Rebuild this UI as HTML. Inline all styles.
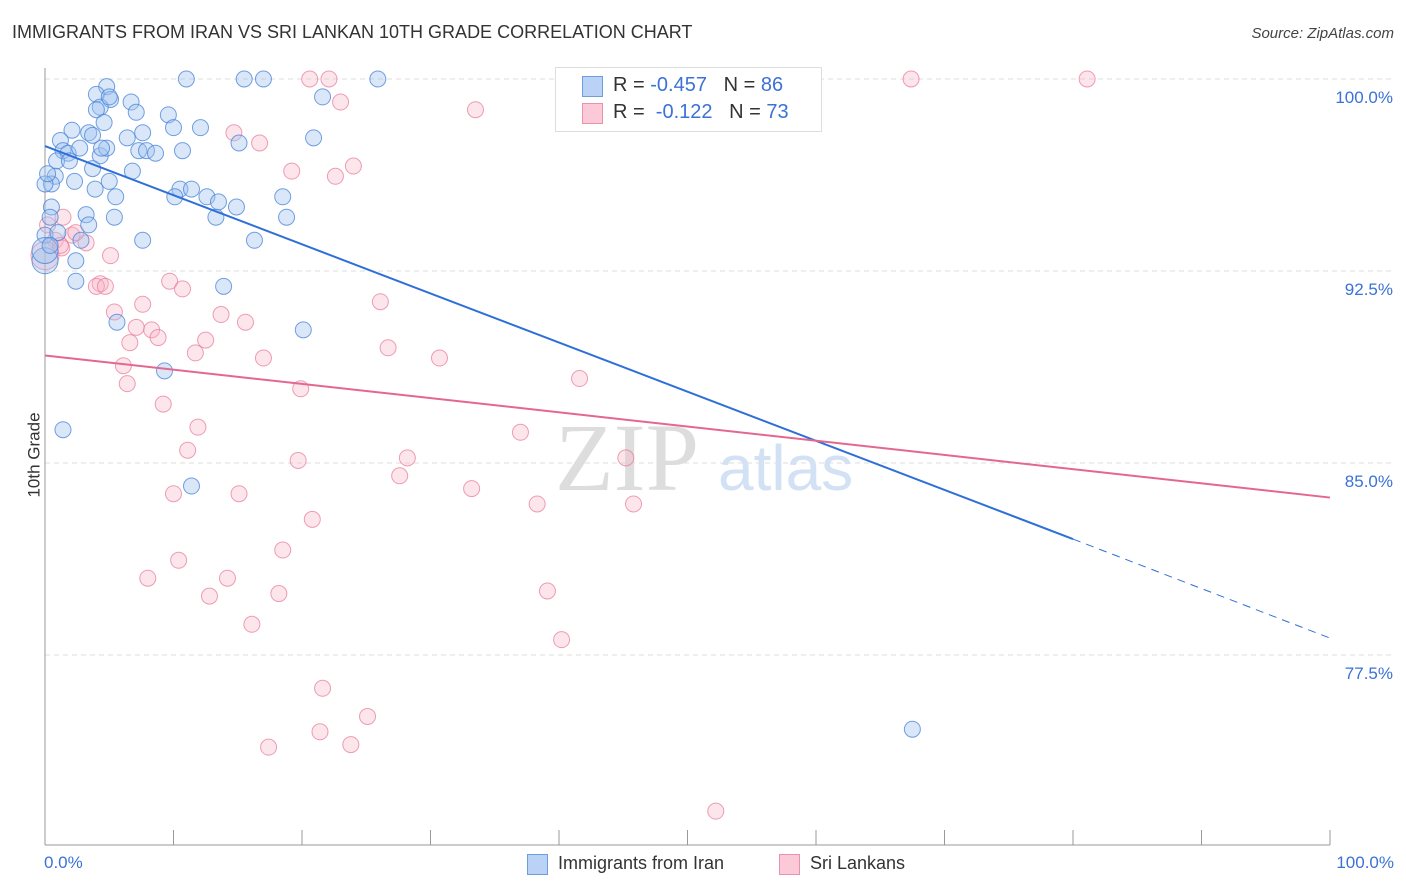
<!DOCTYPE html>
<html><head><meta charset="utf-8"><style>
body{margin:0;width:1406px;height:892px;background:#fff;font-family:"Liberation Sans",sans-serif;overflow:hidden;position:relative}
.t{position:absolute;white-space:nowrap}
</style></head><body>
<div class="t" style="left:12px;top:22px;font-size:18px;color:#333">IMMIGRANTS FROM IRAN VS SRI LANKAN 10TH GRADE CORRELATION CHART</div>
<div class="t" style="right:12px;top:25px;font-size:15px;color:#444;font-style:italic">Source: ZipAtlas.com</div>
<svg id="c" width="1406" height="892" style="position:absolute;left:0;top:0"></svg>
<script>
const blueX=[4.8,11.0,15.5,17.0,25.9,4.0,5.1,6.7,21.6,4.3,7.1,9.6,4.0,2.1,3.4,4.6,7.6,10.0,12.1,1.2,6.4,15.1,20.9,1.4,1.8,4.3,4.8,7.3,7.9,8.6,10.7,0.9,1.9,3.7,6.8,0.8,0.5,2.3,5.0,3.9,10.5,10.1,11.4,12.6,13.5,14.9,18.5,5.5,0.5,3.2,5.4,0.4,3.4,13.3,18.8,0,1.0,2.8,7.6,16.3,0,2.4,2.4,13.9,5.6,20.1,9.3,1.4,11.4,67.5,0,0.2,2.7,4.4,5.0,3.7,0,0.4];
const blueY=[99.7,100,100,100,100,99.4,99.2,99.1,99.3,98.9,98.7,98.6,98.8,98.0,97.9,98.3,97.9,98.1,98.1,97.6,97.7,97.5,97.7,97.2,97.1,97.0,97.3,97.2,97.2,97.1,97.2,96.8,96.8,96.5,96.4,96.2,95.9,96.0,96.0,95.7,95.7,95.4,95.7,95.4,95.2,95.0,95.4,95.4,95.0,94.7,94.6,94.6,94.3,94.6,94.6,93.9,94.0,93.7,93.7,93.7,92.9,92.9,92.1,91.9,90.5,90.2,88.6,86.3,84.1,74.6,95.9,96.3,97.3,97.3,99.3,97.8,93.3,93.5];
const pinkX=[20.6,22.1,67.4,81.1,23.0,33.5,14.7,16.7,19.2,22.6,24.0,1.4,0.2,2.1,3.2,0.8,1.3,5.1,4.3,4.0,4.7,7.6,9.7,10.7,5.4,13.7,15.6,7.1,8.3,8.8,6.6,12.5,11.7,17.0,26.7,30.7,26.1,6.1,6.4,19.9,41.6,9.2,11.9,11.1,19.7,37.0,28.2,45.2,27.6,10.0,15.1,33.2,38.3,45.8,20.8,18.5,8.0,10.4,14.2,12.8,18.2,39.1,16.1,40.2,21.6,25.1,21.4,23.8,17.4,52.2,0,1.2,2.4];
const pinkY=[100,100,100,100,99.1,98.8,97.9,97.5,96.4,96.2,96.6,94.6,94.3,93.9,93.6,93.7,93.4,93.1,92.0,91.9,91.9,91.2,92.1,91.8,90.9,90.8,90.5,90.3,90.2,89.9,89.7,89.8,89.3,89.1,89.5,89.1,91.3,88.8,88.1,87.9,88.3,87.3,86.4,85.5,85.1,86.2,85.2,85.2,84.5,83.8,83.8,84.0,83.4,83.4,82.8,81.6,80.5,81.2,80.5,79.8,79.9,80.0,78.7,78.1,76.2,75.1,74.5,74.0,73.9,71.4,93.1,93.5,94.0];
const blueTrendX=[0,80.0,100];
const blueTrendY=[97.38,82.03,78.16];
const pinkTrendX=[0,100];
const pinkTrendY=[89.2,83.65];
const yTicks=[100,92.5,85,77.5];
const yTickLabels=["100.0%","92.5%","85.0%","77.5%"];
const xTicks=[0,10,20,30,40,50,60,70,80,90,100];

const X0=45,X1=1330,Y100=79,PX=25.6;
const sx=v=>X0+(X1-X0)*v/100;
const sy=v=>Y100+(100-v)*PX;
const svg=document.getElementById('c');
const NS='http://www.w3.org/2000/svg';
function mk(tag,attrs){const e=document.createElementNS(NS,tag);for(const k in attrs)e.setAttribute(k,attrs[k]);svg.appendChild(e);return e;}

yTicks.forEach((t,i)=>{
  const g=mk('line',{x1:X0,x2:1395,y1:sy(t),y2:sy(t),stroke:'#ddd','stroke-dasharray':'5,4'});
  
  
  const tx=mk('text',{x:1393,y:sy(t)+24,'text-anchor':'end','font-size':17,fill:'#3b72d6','font-family':'Liberation Sans'});
  tx.textContent=yTickLabels[i];
  
  
});
let ax=mk('line',{x1:X0,x2:X0,y1:68,y2:845,stroke:'#999'});


ax=mk('line',{x1:X0,x2:X1,y1:845,y2:845,stroke:'#999'});


xTicks.forEach(t=>{
  const l=mk('line',{x1:sx(t),x2:sx(t),y1:830,y2:845,stroke:'#999'});
  
  
});
// watermark
let w=mk('text',{x:555,y:490,'font-size':96,fill:'#ddd','font-family':'Liberation Serif'});w.textContent='ZIP';


w=mk('text',{x:718,y:490,'font-size':64,fill:'#d3e1f5','font-family':'Liberation Sans'});w.textContent='atlas';



pinkX.forEach((x,i)=>{
  const c=mk('circle',{cx:sx(x),cy:sy(pinkY[i]),r:(i>=70&&x===0)?14:8,fill:'rgba(248,180,200,0.35)',stroke:'rgba(230,120,150,0.7)','stroke-width':1});
  
  
});
blueX.forEach((x,i)=>{
  const c=mk('circle',{cx:sx(x),cy:sy(blueY[i]),r:(i===60||i===76)?13:8,fill:'rgba(160,195,240,0.4)',stroke:'rgba(70,130,215,0.75)','stroke-width':1});
  
  
});
let tl=mk('line',{x1:sx(blueTrendX[0]),y1:sy(blueTrendY[0]),x2:sx(blueTrendX[1]),y2:sy(blueTrendY[1]),stroke:'#2f6fd8','stroke-width':2});


tl=mk('line',{x1:sx(blueTrendX[1]),y1:sy(blueTrendY[1]),x2:sx(blueTrendX[2]),y2:sy(blueTrendY[2]),stroke:'#2f6fd8','stroke-width':1,'stroke-dasharray':'8,6'});


tl=mk('line',{x1:sx(pinkTrendX[0]),y1:sy(pinkTrendY[0]),x2:sx(pinkTrendX[1]),y2:sy(pinkTrendY[1]),stroke:'#e4678f','stroke-width':2});


</script>
<div class="t" style="left:-8px;top:445px;font-size:17px;color:#333;transform:rotate(-90deg)">10th Grade</div>
<div class="t" style="left:44px;top:853px;font-size:17px;color:#3b72d6">0.0%</div>
<div class="t" style="right:12px;top:853px;font-size:17px;color:#3b72d6">100.0%</div>
<div style="position:absolute;left:555px;top:67px;width:265px;height:63px;border:1px solid #ddd;background:#fff;font-size:20px">
 <div style="position:absolute;left:26px;top:8px;width:19px;height:19px;background:#b9d2f6;border:1px solid #6b9de0"></div>
 <div class="t" style="left:57px;top:6px;color:#333">R = <span style="color:#3b72d6">-0.457</span>&nbsp;&nbsp;&nbsp;N = <span style="color:#3b72d6">86</span></div>
 <div style="position:absolute;left:26px;top:35px;width:19px;height:19px;background:#fcc9d8;border:1px solid #e992ae"></div>
 <div class="t" style="left:57px;top:33px;color:#333">R = &nbsp;<span style="color:#3b72d6">-0.122</span>&nbsp;&nbsp;&nbsp;N = <span style="color:#3b72d6">73</span></div>
</div>
<div style="position:absolute;left:527px;top:853px;height:22px">
 <div style="position:absolute;left:0;top:1px;width:19px;height:19px;background:#b9d2f6;border:1px solid #6b9de0"></div>
 <div class="t" style="left:31px;top:0;font-size:18px;color:#333">Immigrants from Iran</div>
</div>
<div style="position:absolute;left:779px;top:853px;height:22px">
 <div style="position:absolute;left:0;top:1px;width:19px;height:19px;background:#fcc9d8;border:1px solid #e992ae"></div>
 <div class="t" style="left:31px;top:0;font-size:18px;color:#333">Sri Lankans</div>
</div>
</body></html>
